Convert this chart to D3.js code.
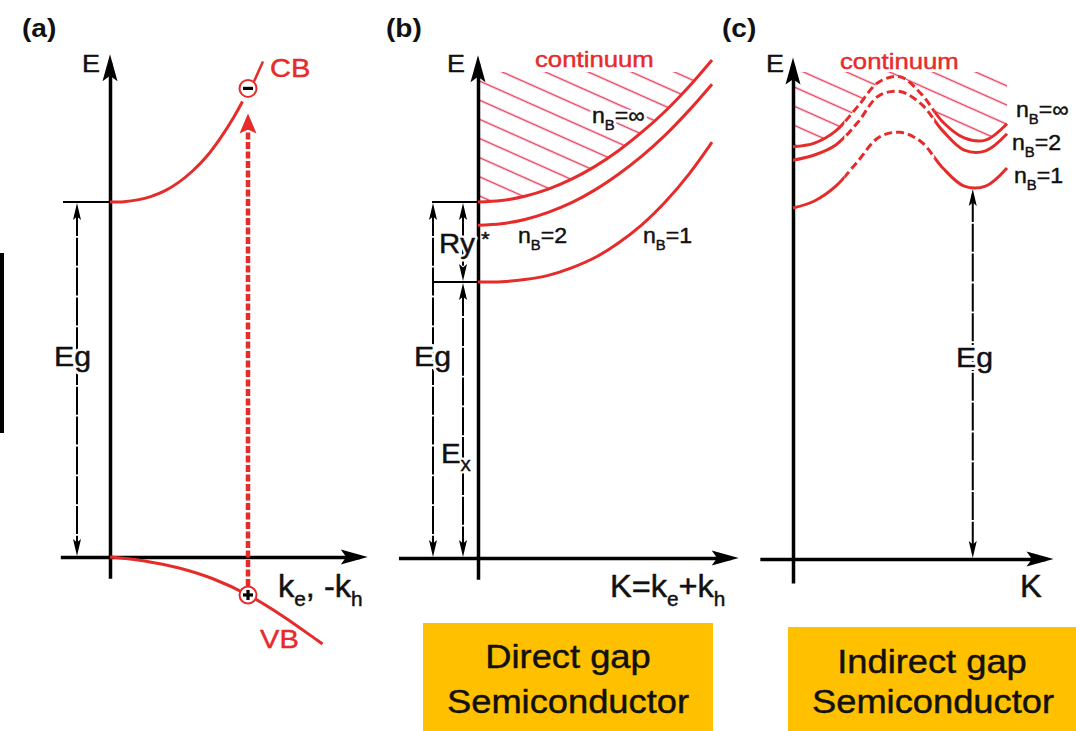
<!DOCTYPE html>
<html><head><meta charset="utf-8">
<script src="https://cdn.jsdelivr.net/npm/d3@7"></script>
<style>
html,body{margin:0;padding:0;background:#fff;}
svg{display:block;}
text{font-family:"Liberation Sans", Arial, Helvetica, sans-serif;}
</style></head><body>
<svg id="chart" width="1076" height="731"></svg>
<script>
// ================= DATA =================
// Panel (a): free particle bands (k in units of the drawn transition k, E in units of Eg)
const kCB = [0, 0.1, 0.2, 0.3, 0.4, 0.5, 0.6, 0.7, 0.8, 0.9, 0.96];
const eCB = [1.000, 1.001, 1.006, 1.016, 1.032, 1.056, 1.088, 1.128, 1.180, 1.241, 1.283];
const kVB = [0, 0.25, 0.5, 0.75, 1.0, 1.25, 1.5, 1.54];
const eVB = [0, -0.011, -0.031, -0.062, -0.107, -0.166, -0.234, -0.245];
const transitionK = 1.0;
const electronE = 1.32;
const holeE = -0.107;
const gapA = [0, 1];
const axisKA = [-0.36, 1.81], axisEA = [-0.06, 1.394];

// Panel (b): direct gap exciton dispersion (K in arbitrary units, E in units of Eg)
const kB = [0, 0.1, 0.2, 0.3, 0.4, 0.5, 0.6, 0.7, 0.8, 0.9, 1.0];
const eBinf = [1.000, 1.004, 1.016, 1.036, 1.064, 1.100, 1.144, 1.196, 1.255, 1.323, 1.399];
const eB2   = [0.935, 0.939, 0.951, 0.971, 0.998, 1.034, 1.078, 1.129, 1.188, 1.256, 1.331];
const eB1   = [0.775, 0.776, 0.782, 0.794, 0.815, 0.844, 0.885, 0.936, 1.000, 1.077, 1.168];
const EgB = 1.0, ExB = 0.775;
const hatchTopB = 1.365;
const axisKB = [-0.34, 1.08], axisEB = [-0.06, 1.39];

// Panel (c): indirect gap exciton dispersion
const kC = [0, 0.1, 0.2, 0.3, 0.4, 0.5, 0.6, 0.7, 0.8, 0.9, 1.0];
const eCinf = [1.111, 1.121, 1.154, 1.218, 1.285, 1.300, 1.253, 1.178, 1.135, 1.129, 1.173];
const eC2   = [1.075, 1.089, 1.116, 1.175, 1.248, 1.260, 1.226, 1.154, 1.102, 1.100, 1.146];
const eC1   = [0.946, 0.965, 1.005, 1.070, 1.136, 1.150, 1.124, 1.054, 1.005, 1.005, 1.054];
const dashedK = [0.24, 0.66];
const EgC = 1.0, kGapC = 0.84;
const hatchTopC = 1.313;
const axisKC = [-0.155, 1.18], axisEC = [-0.065, 1.33];

// Labels
const panelLabels = ["(a)", "(b)", "(c)"];
const boxLines = [["Direct gap", "Semiconductor"], ["Indirect gap", "Semiconductor"]];

// ================= DRAWING =================
const RED = "#e62b2b", HATCH = "#e23d5e", BLACK = "#111", YEL = "#FFC000";
const svg = d3.select("#chart");
const defs = svg.append("defs");
defs.append("pattern").attr("id", "hatch").attr("patternUnits", "userSpaceOnUse")
  .attr("width", 60).attr("height", 17.5).attr("patternTransform", "rotate(24)")
  .append("line").attr("x1", 0).attr("x2", 60).attr("y1", 1.5).attr("y2", 1.5)
  .attr("stroke", HATCH).attr("stroke-width", 1.4);

function head(g, x, y, angle, L, W, color) {
  g.append("path").attr("d", `M0,0 L${-L},${-W/2} L${-L*0.8},0 L${-L},${W/2} Z`)
    .attr("transform", `translate(${x},${y}) rotate(${angle})`).attr("fill", color);
}
function txt(parent, x, y, pieces, o = {}) {
  const size = o.size || 24, sx = o.sx || 1.12;
  const layers = o.halo ? ["halo", "ink"] : ["ink"];
  layers.forEach(layer => {
    const col = o.fill || BLACK;
    const t = parent.append("text").attr("transform", `translate(${x},${y}) scale(${sx},1)`)
      .attr("font-size", size).attr("fill", layer === "halo" ? "#fff" : col)
      .attr("font-weight", o.weight || "normal").attr("text-anchor", o.anchor || "start")
      .attr("stroke", layer === "halo" ? "#fff" : col)
      .attr("stroke-width", layer === "halo" ? o.halo : (o.weight === "bold" ? 0 : 0.45))
      .attr("stroke-linejoin", "round");
    let cur = 0;
    pieces.forEach(p => {
      if (typeof p === "string") p = {t: p};
      const sh = p.sub ? size * 0.3 : p.sup ? -size * 0.3 : 0;
      t.append("tspan").text(p.t).attr("font-size", (p.sub || p.sup) ? size * (p.scale || 0.64) : size).attr("dy", sh - cur);
      cur = sh;
    });
  });
}
function axes(g, xs, ys, kExt, eExt) {
  const ax = xs.copy().domain(kExt).range(kExt.map(xs));
  const ay = ys.copy().domain(eExt).range(eExt.map(ys));
  g.append("g").attr("transform", `translate(0,${ys(0)})`)
    .call(d3.axisBottom(ax).tickValues([]).tickSizeOuter(0))
    .select(".domain").attr("stroke", "#000").attr("stroke-width", 3.5);
  g.append("g").attr("transform", `translate(${xs(0)},0)`)
    .call(d3.axisLeft(ay).tickValues([]).tickSizeOuter(0))
    .select(".domain").attr("stroke", "#000").attr("stroke-width", 3.5);
  head(g, xs(kExt[1]) + 8, ys(0), 0, 27, 15, "#000");
  head(g, xs(0), ys(eExt[1]) - 8, -90, 27, 15, "#000");
}
function dimArrow(g, x, y1, y2, upHead, downHead) {
  g.append("line").attr("x1", x).attr("x2", x).attr("y1", y1 + (upHead ? 6 : 0)).attr("y2", y2 - (downHead ? 6 : 0))
    .attr("stroke", "#000").attr("stroke-width", 2).attr("stroke-dasharray", "28,1.8");
  if (upHead) head(g, x, y1 + 1, -90, 17, 8, "#000");
  if (downHead) head(g, x, y2 - 1, 90, 17, 8, "#000");
}

// ---------- Panel (a) ----------
const gA = svg.append("g");
const xA = d3.scaleLinear().domain([0, 1]).range([110, 248]);
const yA = d3.scaleLinear().domain([0, 1]).range([557, 202]);
gA.append("rect").attr("x", 0).attr("y", 253).attr("width", 4).attr("height", 180).attr("fill", "#000");
gA.append("line").attr("x1", xA(0) - 47).attr("x2", xA(0)).attr("y1", yA(gapA[1])).attr("y2", yA(gapA[1]))
  .attr("stroke", "#000").attr("stroke-width", 2);
dimArrow(gA, xA(0) - 33, yA(gapA[1]), yA(gapA[0]), true, true);
axes(gA, xA, yA, axisKA, axisEA);
const lineA = d3.line().x(d => xA(d[0])).y(d => yA(d[1])).curve(d3.curveCatmullRom.alpha(0.5));
gA.append("path").attr("d", lineA(kCB.map((k, i) => [k, eCB[i]]))).attr("fill", "none").attr("stroke", RED).attr("stroke-width", 3);
gA.append("path").attr("d", lineA(kVB.map((k, i) => [k, eVB[i]]))).attr("fill", "none").attr("stroke", RED).attr("stroke-width", 3);
const ex = xA(transitionK), eyE = yA(electronE), eyH = yA(holeE);
gA.append("line").attr("x1", ex).attr("x2", ex).attr("y1", eyH - 9).attr("y2", eyE + 40)
  .attr("stroke", RED).attr("stroke-width", 4.5).attr("stroke-dasharray", "7,2.5");
head(gA, ex, eyE + 25, -90, 20, 17, RED);
gA.append("line").attr("x1", ex + 6).attr("y1", eyE - 7).attr("x2", ex + 15).attr("y2", eyE - 27).attr("stroke", RED).attr("stroke-width", 2.5);
[[eyE, "-"], [eyH, "+"]].forEach(([cy, s]) => {
  gA.append("circle").attr("cx", ex).attr("cy", cy).attr("r", 8.5).attr("fill", "#fff").attr("stroke", RED).attr("stroke-width", 2);
  gA.append("rect").attr("x", ex - 5).attr("y", cy - 1.6).attr("width", 10).attr("height", 3.2).attr("fill", "#000");
  if (s === "+") gA.append("rect").attr("x", ex - 1.6).attr("y", cy - 5).attr("width", 3.2).attr("height", 10).attr("fill", "#000");
});
txt(gA, 22, 37, [panelLabels[0]], {size: 26, weight: "bold", sx: 1.08});
txt(gA, 82, 72, ["E"], {size: 24});
txt(gA, 270, 77, ["CB"], {size: 26, fill: RED});
txt(gA, 260, 648, ["VB"], {size: 26, fill: RED});
txt(gA, 54, 366, ["Eg"], {size: 28, halo: 6, sx: 1.08});
txt(gA, 278, 597, ["k", {t: "e", sub: true}, ", -k", {t: "h", sub: true}], {size: 31, sx: 1.05});

// ---------- Panel (b) ----------
const gB = svg.append("g");
const xB = d3.scaleLinear().domain([0, 1]).range([478, 712]);
const yB = d3.scaleLinear().domain([0, 1]).range([558, 202]);
defs.append("clipPath").attr("id", "clipB").append("rect")
  .attr("x", xB(0)).attr("y", yB(hatchTopB)).attr("width", xB(1.04) - xB(0)).attr("height", yB(0) - yB(hatchTopB));
const areaB = d3.area().x(d => xB(d[0])).y0(0).y1(d => yB(d[1])).curve(d3.curveCatmullRom.alpha(0.5));
gB.append("path").attr("clip-path", "url(#clipB)").attr("fill", "url(#hatch)")
  .attr("d", areaB(kB.map((k, i) => [k, eBinf[i]])));
[EgB, ExB].forEach(e => gB.append("line").attr("x1", xB(0) - 46).attr("x2", xB(0)).attr("y1", yB(e)).attr("y2", yB(e)).attr("stroke", "#000").attr("stroke-width", 2));
dimArrow(gB, xB(0) - 45, yB(EgB), yB(0), true, true);
dimArrow(gB, xB(0) - 15, yB(EgB), yB(ExB), true, true);
dimArrow(gB, xB(0) - 15, yB(ExB), yB(0), true, true);
axes(gB, xB, yB, axisKB, axisEB);
const lineB = d3.line().x(d => xB(d[0])).y(d => yB(d[1])).curve(d3.curveCatmullRom.alpha(0.5));
[eBinf, eB2, eB1].forEach(arr => gB.append("path").attr("d", lineB(kB.map((k, i) => [k, arr[i]])))
  .attr("fill", "none").attr("stroke", RED).attr("stroke-width", 3));
txt(gB, 386, 37, [panelLabels[1]], {size: 26, weight: "bold", sx: 1.08});
txt(gB, 447, 72, ["E"], {size: 24});
txt(gB, 535, 67, ["continuum"], {size: 23, fill: RED, halo: 5});
txt(gB, 592, 123, ["n", {t: "B", sub: true}, "=∞"], {size: 22, halo: 6, sx: 1.05});
txt(gB, 518, 243, ["n", {t: "B", sub: true}, "=2"], {size: 22, sx: 1.05});
txt(gB, 643, 243, ["n", {t: "B", sub: true}, "=1"], {size: 22, sx: 1.05});
txt(gB, 439, 253, ["Ry"], {size: 28, halo: 5, sx: 1.05});
txt(gB, 481, 246, ["*"], {size: 20});
txt(gB, 414, 366, ["Eg"], {size: 28, halo: 6, sx: 1.08});
txt(gB, 441, 463, ["E", {t: "x", sub: true, scale: 0.7}], {size: 28, halo: 5, sx: 1.05});
txt(gB, 610, 597, ["K=k", {t: "e", sub: true}, "+k", {t: "h", sub: true}], {size: 31, sx: 1.05});
gB.append("rect").attr("x", 423).attr("y", 623).attr("width", 290).attr("height", 108).attr("fill", YEL);
txt(gB, 568, 668, [boxLines[0][0]], {size: 33, anchor: "middle", sx: 1.1});
txt(gB, 568, 713, [boxLines[0][1]], {size: 33, anchor: "middle", sx: 1.1});

// ---------- Panel (c) ----------
const gC = svg.append("g");
const xC = d3.scaleLinear().domain([0, 1]).range([793, 1007]);
const yC = d3.scaleLinear().domain([0, 1]).range([559, 188]);
defs.append("clipPath").attr("id", "clipC").append("rect")
  .attr("x", xC(0)).attr("y", yC(hatchTopC)).attr("width", xC(1.02) - xC(0)).attr("height", yC(0) - yC(hatchTopC));
const areaC = d3.area().x(d => xC(d[0])).y0(0).y1(d => yC(d[1])).curve(d3.curveCatmullRom.alpha(0.5));
gC.append("path").attr("clip-path", "url(#clipC)").attr("fill", "url(#hatch)")
  .attr("d", areaC(kC.map((k, i) => [k, eCinf[i]])));
dimArrow(gC, xC(kGapC), yC(EgC), yC(0), true, true);
axes(gC, xC, yC, axisKC, axisEC);
defs.append("clipPath").attr("id", "solidC").selectAll("rect")
  .data([[-0.1, dashedK[0]], [dashedK[1], 1.2]]).join("rect")
  .attr("x", d => xC(d[0])).attr("width", d => xC(d[1]) - xC(d[0])).attr("y", 0).attr("height", 731);
defs.append("clipPath").attr("id", "dashC").append("rect")
  .attr("x", xC(dashedK[0])).attr("width", xC(dashedK[1]) - xC(dashedK[0])).attr("y", 0).attr("height", 731);
const lineC = d3.line().x(d => xC(d[0])).y(d => yC(d[1])).curve(d3.curveCatmullRom.alpha(0.5));
[eCinf, eC2, eC1].forEach(arr => {
  const d = lineC(kC.map((k, i) => [k, arr[i]]));
  gC.append("path").attr("d", d).attr("clip-path", "url(#solidC)").attr("fill", "none").attr("stroke", RED).attr("stroke-width", 3);
  gC.append("path").attr("d", d).attr("clip-path", "url(#dashC)").attr("fill", "none").attr("stroke", RED).attr("stroke-width", 3).attr("stroke-dasharray", "8,4");
});
txt(gC, 722, 37, [panelLabels[2]], {size: 26, weight: "bold", sx: 1.08});
txt(gC, 766, 72, ["E"], {size: 24});
txt(gC, 840, 69, ["continuum"], {size: 23, fill: RED, halo: 4});
txt(gC, 1016, 117, ["n", {t: "B", sub: true}, "=∞"], {size: 22, sx: 1.05});
txt(gC, 1012, 150, ["n", {t: "B", sub: true}, "=2"], {size: 22, sx: 1.05});
txt(gC, 1014, 183, ["n", {t: "B", sub: true}, "=1"], {size: 22, sx: 1.05});
txt(gC, 956, 367, ["Eg"], {size: 28, halo: 6, sx: 1.08});
txt(gC, 1020, 597, ["K"], {size: 31, sx: 1.05});
gC.append("rect").attr("x", 788).attr("y", 627).attr("width", 288).attr("height", 104).attr("fill", YEL);
txt(gC, 932, 673, [boxLines[1][0]], {size: 33, anchor: "middle", sx: 1.1});
txt(gC, 933, 713, [boxLines[1][1]], {size: 33, anchor: "middle", sx: 1.1});
</script>
</body></html>
